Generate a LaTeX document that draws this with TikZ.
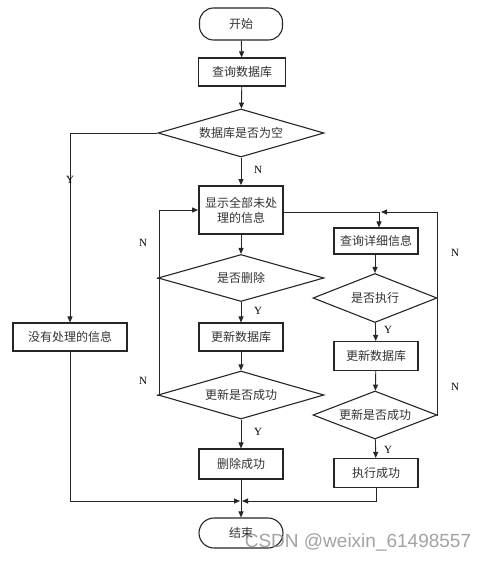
\documentclass[tikz,border=0pt]{standalone}
\usepackage{fontspec}
\setmainfont{Liberation Serif}
\newfontfamily\cjk{Noto Sans CJK SC}
\newfontfamily\wmfont{Liberation Sans}
\usetikzlibrary{shapes.geometric,arrows.meta}
\begin{document}
\begin{tikzpicture}[x=1pt,y=-1pt,
  line width=0.9pt, draw=black!85,
  every node/.style={font=\cjk\fontsize{12}{15}\selectfont, text=black!80},
  box/.style={draw, rectangle, inner sep=0pt, line width=1.1pt},
  term/.style={draw, rectangle, rounded corners=14pt, inner sep=0pt, line width=1.1pt},
  dia/.style={draw, diamond, inner sep=0pt, aspect=3.5, line width=1.1pt},
  lbl/.style={font=\fontsize{11}{13}\selectfont, text=black},
  arr/.style={-{Triangle[length=6pt,width=5pt]}}
]
\useasboundingbox (0,0) rectangle (489,561);
\fill[white] (0,0) rectangle (489,561);

\node[term, minimum width=83pt, minimum height=32pt] (start) at (241,24) {开始};
\node[box, minimum width=87pt, minimum height=28pt] (q1) at (242,72) {查询数据库};
\node[dia, minimum width=166pt, minimum height=48pt] (d1) at (241,133) {数据库是否为空};
\node[box, line width=1.8pt, minimum width=84pt, minimum height=48pt, align=center] (show) at (241,210) {显示全部未处\\理的信息};
\node[box, minimum width=114pt, minimum height=28pt] (none) at (70,337) {没有处理的信息};
\node[dia, minimum width=166pt, minimum height=47pt] (d2) at (241,278) {是否删除};
\node[box, minimum width=84pt, minimum height=28pt] (u1) at (241,337) {更新数据库};
\node[dia, minimum width=166pt, minimum height=48pt] (d3) at (241,395) {更新是否成功};
\node[box, minimum width=84pt, minimum height=30pt] (del) at (241,464) {删除成功};
\node[term, minimum width=84pt, minimum height=30pt, rounded corners=15pt] (end) at (241,533) {结束};

\node[box, minimum width=84pt, minimum height=26pt] (q2) at (376,241) {查询详细信息};
\node[dia, minimum width=124pt, minimum height=49pt] (d4) at (375,298) {是否执行};
\node[box, minimum width=84pt, minimum height=29pt] (u2) at (376,356) {更新数据库};
\node[dia, minimum width=124pt, minimum height=48pt] (d5) at (375,415) {更新是否成功};
\node[box, minimum width=84pt, minimum height=29pt] (ok) at (376,473) {执行成功};

\coordinate (m) at (241,501);
\coordinate (jr) at (379,212);

% main column
\draw[arr] (start) -- (q1);
\draw[arr] (q1) -- (d1);
\draw[arr] (d1) -- (show);
\draw[arr] (d1.west) -| (none.north);
\draw[arr] (show) -- (d2);
\draw[arr] (d2) -- (u1);
\draw[arr] (u1) -- (d3);
\draw[arr] (d3) -- (del);
\draw[arr] (del) -- (end);

% left N loops
\draw[arr] (d2.west) -- (159,278) |- (show.west |- 0,210);
\draw (d3.west) -- (159,395) -- (159,278);

% right branch
\draw[arr] (show.east |- jr) -- (jr) -- (q2.north -| jr);
\draw[arr] (q2.south -| d4.north) -- (d4.north);
\draw[arr] (d4) -- (u2);
\draw[arr] (u2) -- (d5);
\draw[arr] (d5) -- (ok);
\draw[arr] (d4.east) -- (437,298) |- ([xshift=2pt]jr);
\draw (d5.east) -- (437,415) -- (437,298);

% merge
\draw[arr] (none.south) |- ([xshift=-1pt]m);
\draw[arr] (ok.south) |- ([xshift=1pt]m);

% labels
\node[lbl] (ln1) at (258,170) {N};
\node[lbl] (ly1) at (70,180) {Y};
\node[lbl] (ln2) at (143,243) {N};
\node[lbl] (ly2) at (258,311) {Y};
\node[lbl] (ln3) at (143,381) {N};
\node[lbl] (ly3) at (258,432) {Y};
\node[lbl] (ln4) at (455,253) {N};
\node[lbl] (ln5) at (455,387) {N};
\node[lbl] (ly4) at (388,330) {Y};
\node[lbl] (ly5) at (388,450) {Y};

% watermark
\node[font=\wmfont\fontsize{19}{22}\selectfont, text=black!45, opacity=0.8] (wm) at (358,542) {CSDN @weixin\_61498557};
\end{tikzpicture}
\end{document}
